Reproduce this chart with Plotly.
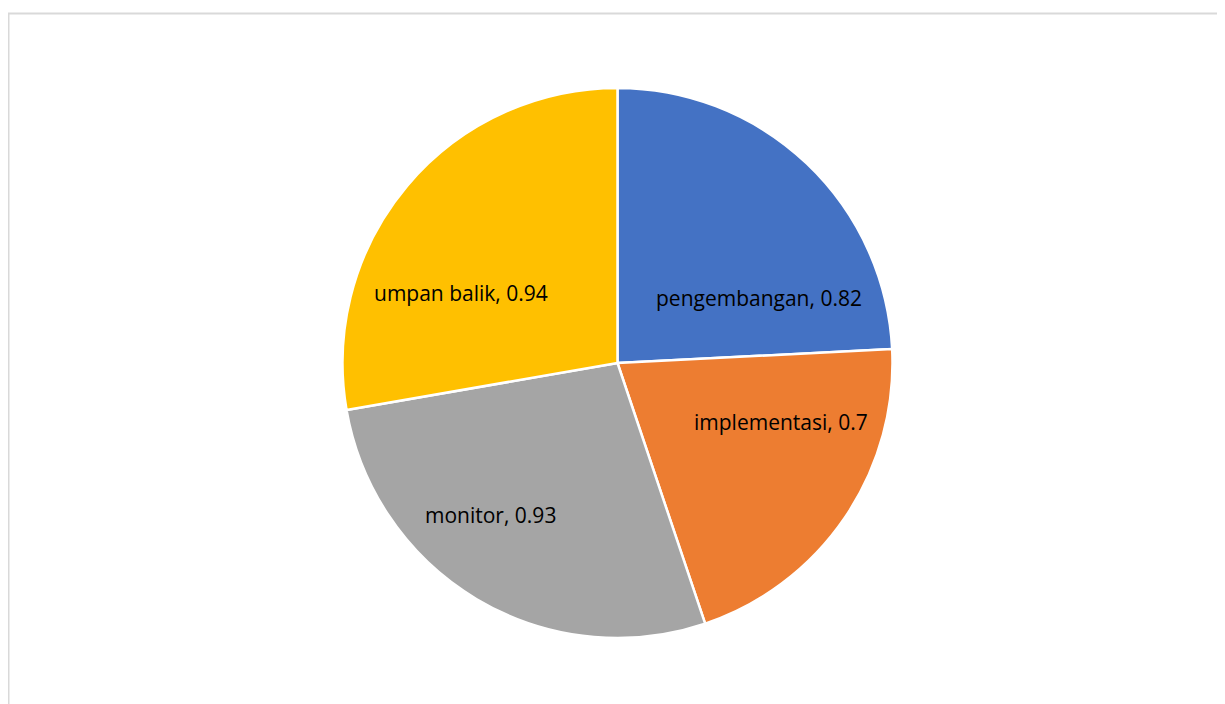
import math
import plotly.graph_objects as go

categories = ["pengembangan", "implementasi", "monitor", "umpan balik"]
values = [0.82, 0.7, 0.93, 0.94]
colors = ["#4472C4", "#ED7D31", "#A5A5A5", "#FFC000"]

# label anchor positions (layout): angle clockwise from 12 o'clock, radius fraction
label_angle = [65.3, 110.0, 220.0, 294.2]
label_rfrac = [0.565, 0.632, 0.72, 0.622]

W, H = 1225, 704
off = 8  # page body margin
cx, cy, r = 617.5 - off, 363 - off, 275

fig = go.Figure(go.Pie(
    labels=categories,
    values=values,
    sort=False,
    direction="clockwise",
    rotation=0,
    marker=dict(colors=colors, line=dict(color="white", width=2.5)),
    textinfo="none",
    showlegend=False,
    hoverinfo="label+value",
    domain=dict(x=[(cx - r) / W, (cx + r) / W], y=[(H - cy - r) / H, (H - cy + r) / H]),
))

for lab, val, a, f in zip(categories, values, label_angle, label_rfrac):
    px = cx + f * r * math.sin(math.radians(a))
    py = cy - f * r * math.cos(math.radians(a))
    fig.add_annotation(x=px / W, y=1 - py / H, xref="paper", yref="paper",
                       text=f"{lab}, {val}", showarrow=False,
                       xanchor="center", yanchor="middle",
                       font=dict(family="Open Sans, Liberation Sans, sans-serif", size=21, color="black"))

fig.add_shape(type="rect", xref="paper", yref="paper",
              x0=0.5 / W, x1=1.02, y0=-0.05, y1=(H - 5.5) / H,
              line=dict(color="#d9d9d9", width=2), fillcolor="rgba(0,0,0,0)", layer="below")

fig.update_layout(width=W, height=H, margin=dict(l=0, r=0, t=0, b=0),
                  paper_bgcolor="white", plot_bgcolor="white")

fig.write_html("out.html")
